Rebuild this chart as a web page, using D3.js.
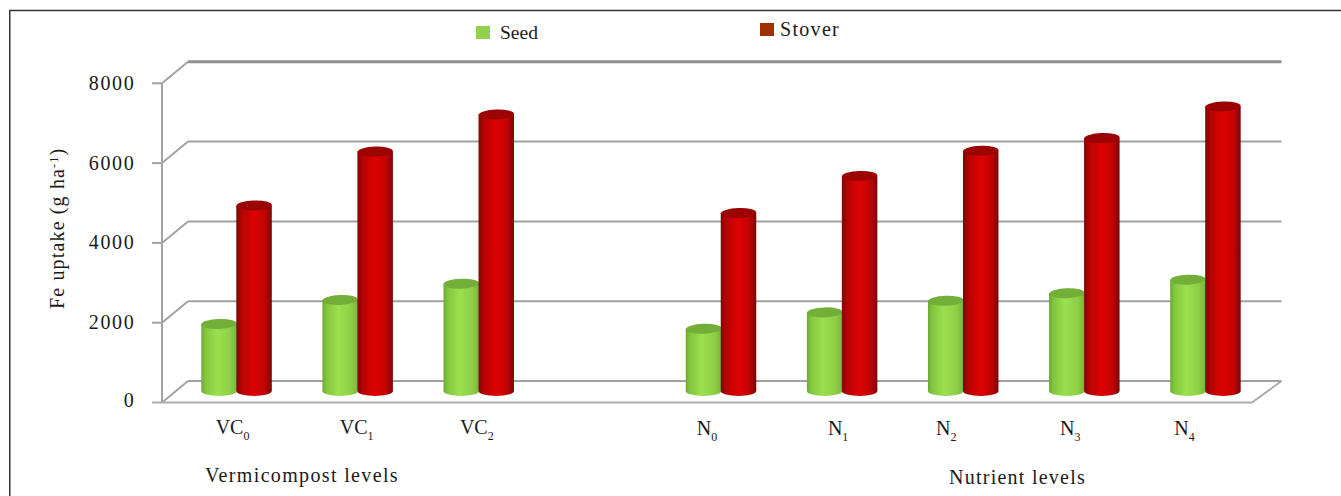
<!DOCTYPE html>
<html><head><meta charset="utf-8">
<script src="https://cdn.jsdelivr.net/npm/d3@7"></script>
<style>html,body{margin:0;padding:0;background:#fff}svg{display:block}text{font-family:"Liberation Serif",serif;fill:#1a1a1a}</style>
</head><body><svg id="c" width="1341" height="496"></svg>
<script>
const categories = ["VC","VC","VC","","N","N","N","N","N"];
const subscripts = ["0","1","2","","0","1","2","3","4"];
const seedValues = [1680,2280,2690,null,1560,1970,2260,2450,2790];
const stoverValues = [4650,6000,6930,null,4460,5390,6020,6340,7130];
const yTicks = [0,2000,4000,6000,8000];
const seriesNames = ["Seed","Stover"];

const labelNudge = [10,13,12,0,0,10,-3,0,-7];
const svg = d3.select("#c");
const x = d3.scaleBand().domain(d3.range(categories.length)).range([162,1252]).padding(0);
const y = d3.scaleLinear().domain([0,8000]).range([402.5,83.3]);
const dx=26, dy=-21.5, mx=14, my=-11.5;

svg.append("path").attr("d","M9.75,496V10.5H1341").attr("fill","none").attr("stroke","#333").attr("stroke-width",1.5);

const defs = svg.append("defs");
function grad(id,stops){const g=defs.append("linearGradient").attr("id",id);stops.forEach(s=>g.append("stop").attr("offset",s[0]).attr("stop-color",s[1]));}
grad("gG",[[0,"#6ea832"],[.12,"#82c63e"],[.45,"#9be04f"],[.8,"#8ed046"],[1,"#78b638"]]);
grad("gR",[[0,"#7d0606"],[.15,"#b50404"],[.5,"#de0202"],[.8,"#c00303"],[1,"#7a0808"]]);

const grid = svg.append("g").attr("fill","none").attr("stroke","#a3a3a3").attr("stroke-width",2);
yTicks.forEach(t=>{
  const py=y(t);
  if(t>0) grid.append("line").attr("x1",152).attr("x2",162).attr("y1",py).attr("y2",py);
  grid.append("line").attr("x1",162).attr("y1",py).attr("x2",162+dx).attr("y2",py+dy);
  grid.append("line").attr("x1",162+dx).attr("y1",py+dy).attr("x2",1252+dx+3.5).attr("y2",py+dy)
    .attr("stroke",t===8000?"#8f8f8f":"#a0a0a0").attr("stroke-width",t===8000?3:2);
});
grid.append("line").attr("x1",162).attr("x2",162).attr("y1",y(8000)).attr("y2",y(0));
grid.append("path").attr("d",`M152,${y(0)}H1252L${1252+dx+3.5},${y(0)+dy}`).attr("stroke","#ababab");

const bw=35.5, ry=5;
function cyl(values,off,fill,top){
  const g=svg.append("g");
  values.forEach((v,i)=>{
    if(v==null) return;
    const cx=x(i)+x.bandwidth()/2+mx+off, yb=y(0)+my, yt=y(v)+my, rx=bw/2;
    g.append("path").attr("d",`M${cx-rx},${yt}V${yb}A${rx},${ry} 0 0 0 ${cx+rx},${yb}V${yt}Z`).attr("fill",fill);
    g.append("ellipse").attr("cx",cx).attr("cy",yt).attr("rx",rx).attr("ry",ry).attr("fill",top)
      .attr("transform",`rotate(-2 ${cx} ${yt})`);
  });
}
cyl(seedValues,-17.5,"url(#gG)","#72ae38");
cyl(stoverValues,17.5,"url(#gR)","#9c0303");

yTicks.forEach(t=>{
  svg.append("text").attr("x",135.5).attr("y",y(t)+6.5-(t===0?2:0)).attr("text-anchor","end")
    .attr("font-size",20).attr("letter-spacing",1.7).text(t);
});
const yt=svg.append("text").attr("transform","translate(64,309) rotate(-90)").attr("font-size",20).attr("letter-spacing",1.15);
yt.append("tspan").text("Fe uptake (g ha");
yt.append("tspan").attr("dy",-6).attr("font-size",12).text("-1");
yt.append("tspan").attr("dy",6).text(")");

categories.forEach((c,i)=>{
  if(!c) return;
  const t=svg.append("text").attr("x",x(i)+x.bandwidth()/2+labelNudge[i]).attr("y",c==="VC"?433.5:435).attr("text-anchor","middle").attr("font-size",20);
  t.append("tspan").text(c);
  t.append("tspan").attr("dy",6).attr("font-size",12).text(subscripts[i]);
});
svg.append("text").attr("x",205).attr("y",481.5).attr("font-size",20).attr("letter-spacing",1.35).text("Vermicompost  levels");
svg.append("text").attr("x",949).attr("y",484).attr("font-size",20).attr("letter-spacing",1.25).text("Nutrient levels");

const lg=[{c:"#92d050",sx:476,sy:26,tx:500,ty:39,ls:0,fs:19.5},{c:"#a03000",sx:760,sy:23,tx:780,ty:36,ls:1.3,fs:20}];
lg.forEach((l,i)=>{
  svg.append("rect").attr("x",l.sx).attr("y",l.sy).attr("width",14).attr("height",13).attr("fill",l.c);
  svg.append("text").attr("x",l.tx).attr("y",l.ty).attr("font-size",l.fs).attr("letter-spacing",l.ls).text(seriesNames[i]);
});
</script></body></html>
